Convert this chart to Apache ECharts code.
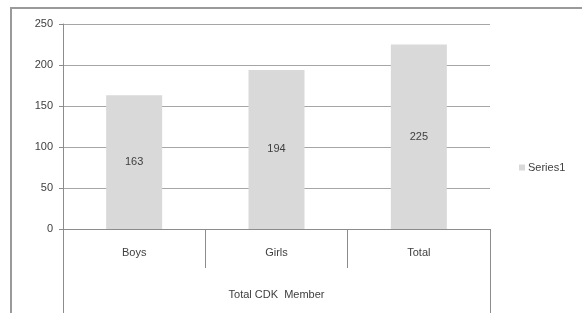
<!DOCTYPE html>
<html>
<head>
<meta charset="utf-8">
<script src="https://cdn.jsdelivr.net/npm/echarts@6/dist/echarts.min.js"></script>
<style>
  body { margin: 0; background: #fff; }
  #chart { width: 582px; height: 313px; }
</style>
</head>
<body>
<div id="chart"></div>
<script>
var categories = ['Boys', 'Girls', 'Total'];
var groupLabel = ['Total CDK  Member'];
var values = [163, 194, 225];
var seriesName = 'Series1';

var myChart = echarts.init(document.getElementById('chart'));
var txt = '#404040';
var line = '#8c8c8c';
myChart.setOption({
    animation: false,
    textStyle: { fontFamily: 'Liberation Sans' },
    graphic: [{
        type: 'rect',
        shape: { x: 11, y: 8, width: 620, height: 400 },
        style: { fill: 'none', stroke: '#9a9a9a', lineWidth: 2 }
    }],
    grid: { left: 63, right: 92, top: 24, bottom: 84, containLabel: false },
    legend: {
        left: 514, top: 157,
        icon: 'rect', itemWidth: 6, itemHeight: 6, itemGap: 4,
        textStyle: { color: txt, fontSize: 11, padding: [0, 0, 0, -2], fontFamily: 'Liberation Sans' },
        data: [seriesName]
    },
    xAxis: [{
        type: 'category',
        data: categories,
        position: 'bottom',
        axisLine: { show: true, lineStyle: { color: line } },
        axisTick: { show: true, length: 39, alignWithLabel: false, lineStyle: { color: line } },
        axisLabel: { color: txt, fontSize: 11, margin: 18 },
        splitLine: { show: false }
    }, {
        type: 'category',
        data: groupLabel,
        position: 'bottom',
        axisLine: { show: false },
        axisTick: { show: true, length: 86, alignWithLabel: false, lineStyle: { color: line } },
        axisLabel: { color: txt, fontSize: 11, margin: 60 },
        splitLine: { show: false }
    }],
    yAxis: {
        type: 'value',
        min: 0, max: 250, interval: 50,
        axisLine: { show: true, lineStyle: { color: line } },
        axisTick: { show: true, length: 4, lineStyle: { color: line } },
        axisLabel: { color: txt, fontSize: 11, margin: 10 },
        splitLine: { lineStyle: { color: '#a6a6a6', width: 1 } }
    },
    series: [{
        name: seriesName,
        type: 'bar',
        xAxisIndex: 0,
        data: values,
        barWidth: 56,
        itemStyle: { color: '#d9d9d9' },
        label: { show: true, position: 'inside', color: txt, fontSize: 11 }
    }]
});
</script>
</body>
</html>
